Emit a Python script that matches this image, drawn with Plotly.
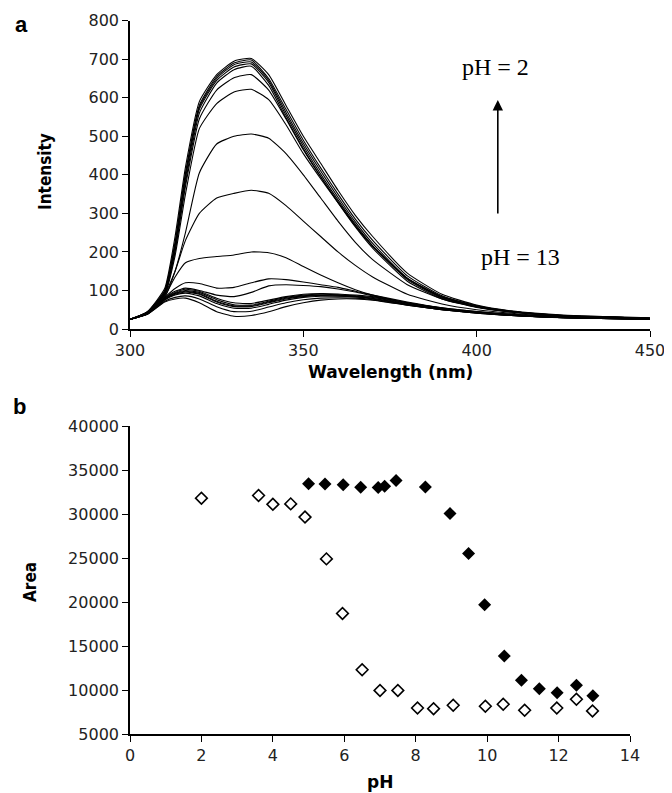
import plotly.graph_objects as go

# ---------------- Panel a: emission spectra ----------------
wavelength = [300, 305, 310, 313, 316, 320, 325, 330, 335, 340, 345, 350, 355, 360, 365, 370, 380, 390, 400, 410, 425, 450]

spec_01 = [25, 45, 105, 240, 420, 590, 660, 695, 702, 660, 580, 500, 430, 360, 295, 240, 145, 90, 62, 47, 36, 29]
spec_02 = [25, 44, 100, 225, 405, 580, 655, 690, 698, 650, 570, 490, 418, 350, 285, 230, 138, 86, 60, 46, 35, 28]
spec_03 = [25, 44, 98, 220, 400, 575, 650, 686, 693, 645, 562, 482, 410, 342, 278, 222, 132, 83, 58, 45, 34, 28]
spec_04 = [25, 43, 95, 215, 390, 570, 645, 680, 688, 640, 555, 475, 402, 335, 272, 216, 128, 80, 57, 44, 34, 27]
spec_05 = [25, 43, 92, 205, 380, 560, 638, 673, 682, 632, 548, 468, 395, 328, 265, 210, 124, 78, 56, 44, 33, 27]
spec_06 = [25, 42, 90, 200, 370, 545, 620, 652, 660, 620, 545, 465, 395, 330, 268, 215, 130, 82, 58, 45, 34, 28]
spec_07 = [25, 42, 88, 190, 350, 520, 585, 615, 622, 595, 530, 455, 390, 328, 268, 215, 132, 84, 60, 46, 35, 28]
spec_08 = [25, 40, 82, 150, 250, 405, 480, 500, 506, 495, 455, 400, 340, 280, 225, 180, 115, 78, 57, 45, 34, 28]
spec_09 = [25, 40, 90, 150, 230, 300, 340, 352, 360, 352, 320, 280, 240, 200, 165, 135, 90, 65, 50, 41, 32, 27]
spec_10 = [25, 40, 85, 135, 172, 183, 188, 192, 200, 198, 185, 162, 140, 120, 102, 88, 68, 55, 45, 38, 31, 26]
spec_11 = [25, 40, 82, 105, 120, 118, 106, 108, 120, 130, 128, 122, 115, 108, 98, 88, 70, 55, 45, 38, 31, 26]
spec_12 = [25, 40, 80, 98, 106, 100, 88, 84, 95, 112, 115, 113, 110, 104, 96, 86, 68, 54, 44, 37, 30, 26]
spec_13 = [25, 40, 80, 95, 103, 98, 80, 68, 66, 75, 84, 90, 92, 91, 88, 84, 68, 54, 44, 37, 30, 26]
spec_14 = [25, 40, 78, 93, 100, 95, 76, 63, 62, 72, 82, 88, 90, 89, 86, 82, 66, 53, 43, 36, 30, 26]
spec_15 = [25, 40, 77, 92, 98, 92, 72, 60, 60, 70, 80, 86, 88, 88, 85, 80, 65, 52, 43, 36, 29, 25]
spec_16 = [25, 39, 76, 90, 96, 90, 70, 58, 58, 68, 78, 84, 87, 86, 84, 79, 64, 51, 42, 35, 29, 25]
spec_17 = [25, 39, 75, 88, 93, 86, 66, 54, 54, 64, 75, 82, 85, 85, 83, 78, 63, 50, 42, 35, 29, 25]
spec_18 = [25, 38, 72, 82, 86, 78, 58, 45, 46, 57, 68, 76, 80, 81, 80, 76, 62, 50, 41, 35, 29, 25]
spec_19 = [25, 38, 70, 78, 80, 68, 45, 33, 35, 45, 58, 68, 75, 78, 78, 75, 62, 50, 41, 35, 29, 25]

spectra = [spec_01, spec_02, spec_03, spec_04, spec_05, spec_06, spec_07, spec_08, spec_09, spec_10,
           spec_11, spec_12, spec_13, spec_14, spec_15, spec_16, spec_17, spec_18, spec_19]

# ---------------- Panel b: area vs pH ----------------
ph_open = [2.0, 3.6, 4.0, 4.5, 4.9, 5.5, 5.95, 6.5, 7.0, 7.5, 8.05, 8.5, 9.05, 9.95, 10.45, 11.05, 11.95, 12.5, 12.95]
area_open = [31800, 32100, 31100, 31150, 29650, 24900, 18700, 12300, 9950, 9950, 7950, 7880, 8270, 8150, 8380, 7700, 7950, 8950, 7620]

ph_filled = [5.0, 5.46, 5.97, 6.46, 6.95, 7.13, 7.45, 8.27, 8.96, 9.48, 9.93, 10.48, 10.96, 11.46, 11.96, 12.5, 12.96]
area_filled = [33450, 33400, 33330, 33050, 33000, 33150, 33800, 33070, 30050, 25500, 19700, 13870, 11100, 10150, 9700, 10530, 9350]

W, H = 672, 793
OFF = 8  # page body margin in the browser


def px(x):
    return (x - OFF) / W


def py(y):
    return 1 - (y - OFF) / H


fig = go.Figure()

for s in spectra:
    fig.add_trace(go.Scatter(x=wavelength, y=s, mode="lines",
                             line=dict(color="black", width=1.1, shape="spline", smoothing=0.5),
                             xaxis="x", yaxis="y", showlegend=False, hoverinfo="skip"))

fig.add_trace(go.Scatter(x=ph_open, y=area_open, mode="markers",
                         marker=dict(symbol="diamond-open", size=9, color="black", line=dict(width=1.6)),
                         xaxis="x2", yaxis="y2", showlegend=False))
fig.add_trace(go.Scatter(x=ph_filled, y=area_filled, mode="markers",
                         marker=dict(symbol="diamond", size=10, color="black"),
                         xaxis="x2", yaxis="y2", showlegend=False))

tickfont = dict(family="DejaVu Sans, Verdana, sans-serif", size=16, color="#222")
axis_common = dict(showgrid=False, zeroline=False, showline=True, linecolor="black", linewidth=1.6,
                   ticks="outside", ticklen=6, tickwidth=1.4, tickcolor="black", tickfont=tickfont,
                   automargin=False)

fig.update_layout(
    width=W, height=H,
    margin=dict(l=0, r=0, t=0, b=0, autoexpand=False),
    paper_bgcolor="white", plot_bgcolor="white",
    xaxis=dict(domain=[px(130), px(650)], anchor="y", range=[300, 450], dtick=50, tick0=300, **axis_common),
    yaxis=dict(domain=[py(329), py(20.7)], anchor="x", range=[0, 800], dtick=100, **axis_common),
    xaxis2=dict(domain=[px(130), px(630)], anchor="y2", range=[0, 14], dtick=2, tick0=0, **axis_common),
    yaxis2=dict(domain=[py(734), py(426)], anchor="x2", range=[5000, 40000], dtick=5000,
                tickformat="d", **axis_common),
)

ann = []
title_font = dict(family="DejaVu Sans, Verdana, sans-serif", size=17, color="black", weight="bold")
narrow_font = dict(family="Liberation Sans Narrow, DejaVu Sans Condensed, Arial Narrow, sans-serif",
                   size=17, color="black", weight="bold")
ann.append(dict(text="Wavelength (nm)", x=px(390), y=py(372), xref="paper", yref="paper",
                showarrow=False, font=title_font, xanchor="center", yanchor="middle"))
ann.append(dict(text="pH", x=px(380), y=py(782), xref="paper", yref="paper",
                showarrow=False, font=title_font, xanchor="center", yanchor="middle"))
ann.append(dict(text="Intensity", x=px(45), y=py(172), xref="paper", yref="paper", textangle=-90,
                showarrow=False, font=narrow_font, xanchor="center", yanchor="middle"))
ann.append(dict(text="Area", x=px(30), y=py(582), xref="paper", yref="paper", textangle=-90,
                showarrow=False, font=narrow_font, xanchor="center", yanchor="middle"))
panel_font = dict(family="Liberation Sans, Arial, sans-serif", size=22, color="black", weight="bold")
ann.append(dict(text="a", x=px(21), y=py(24), xref="paper", yref="paper",
                showarrow=False, font=panel_font, xanchor="center", yanchor="middle"))
ann.append(dict(text="b", x=px(19), y=py(406), xref="paper", yref="paper",
                showarrow=False, font=panel_font, xanchor="center", yanchor="middle"))

serif = dict(family="Liberation Serif, Times New Roman, serif", size=24, color="black")
ann.append(dict(text="pH = 2", x=405.5, y=680, xref="x", yref="y", showarrow=False, font=serif,
                xanchor="center", yanchor="middle"))
ann.append(dict(text="pH = 13", x=412.5, y=188, xref="x", yref="y", showarrow=False, font=serif,
                xanchor="center", yanchor="middle"))
ann.append(dict(text="", x=406.1, y=594, xref="x", yref="y", ax=406.1, ay=296, axref="x", ayref="y",
                showarrow=True, arrowhead=2, arrowsize=1.3, arrowwidth=1.6, arrowcolor="black"))

fig.update_layout(annotations=ann)
fig.write_html("out.html")
